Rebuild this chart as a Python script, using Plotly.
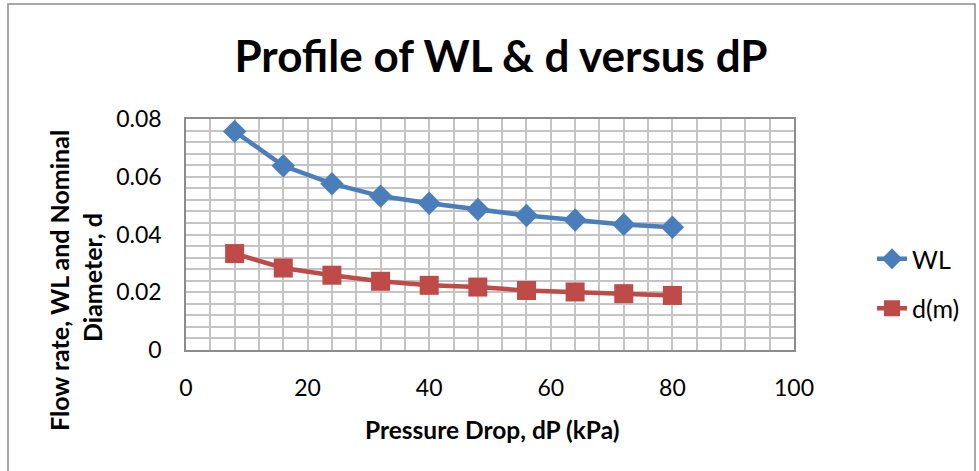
import plotly.graph_objects as go

# Pressure drop (kPa) and the resulting flow rate / nominal diameter values
dp_kpa = [8, 16, 24, 32, 40, 48, 56, 64, 72, 80]
wl = [0.0757, 0.0638, 0.0576, 0.0533, 0.0508, 0.0487, 0.0466, 0.0450, 0.0435, 0.0425]
d_m = [0.0334, 0.0284, 0.0259, 0.0238, 0.0224, 0.0218, 0.0206, 0.0201, 0.0195, 0.0189]

x_ticks = [0, 20, 40, 60, 80, 100]
y_ticks = [0, 0.02, 0.04, 0.06, 0.08]
y_tick_text = ["0", "0.02", "0.04", "0.06", "0.08"]

FONT = "Lato, 'Open Sans', sans-serif"
W, H = 979, 471
L, R, T, B = 186, 185, 119, 121

fig = go.Figure()
fig.add_trace(go.Scatter(
    x=dp_kpa, y=wl, name="WL", legendgroup="wl", mode="lines+markers",
    line=dict(color="#4A7EBB", width=4.5),
    marker=dict(symbol="diamond", size=18, color="#4A7EBB"),
))
fig.add_trace(go.Scatter(
    x=dp_kpa, y=d_m, name="d(m)", legendgroup="d", mode="lines+markers",
    line=dict(color="#BE4B48", width=4.5),
    marker=dict(symbol="square", size=19, color="#BE4B48"),
))

grid_col = "#C4C4C4"
pw, ph = W - L - R, H - T - B


def px(xp):
    return (xp - L) / pw


def py(yp):
    return (H - B - yp) / ph


fig.update_layout(
    width=W, height=H,
    margin=dict(l=L, r=R, t=T, b=B),
    paper_bgcolor="white", plot_bgcolor="white",
    font=dict(family=FONT, color="black"),
    title=dict(text="<b>Profile of WL &amp; d versus dP</b>",
               font=dict(size=44, family=FONT),
               x=501 / W, xanchor="center", xref="container",
               y=1 - 57 / H, yanchor="middle", yref="container"),
    xaxis=dict(range=[0, 100], tickvals=x_ticks, ticks="",
               tickfont=dict(size=23), showgrid=True, gridcolor=grid_col, gridwidth=1.5,
               minor=dict(dtick=4, showgrid=True, gridcolor=grid_col, gridwidth=1.5),
               showline=True, linecolor="#8C8C8C", linewidth=1.5, mirror=True,
               zeroline=False, ticklabelstandoff=17),
    yaxis=dict(range=[0, 0.08], tickvals=y_ticks, ticktext=y_tick_text, ticks="",
               tickfont=dict(size=23), showgrid=True, gridcolor=grid_col, gridwidth=1.5,
               minor=dict(dtick=0.004, tick0=0, showgrid=True, gridcolor=grid_col, gridwidth=1.5),
               showline=True, linecolor="#8C8C8C", linewidth=1.5, mirror=True,
               zeroline=False, ticklabelstandoff=18),
    legend=dict(x=px(872), y=py(236), xanchor="left", yanchor="top",
                font=dict(size=25), bgcolor="rgba(0,0,0,0)", tracegroupgap=14),
    showlegend=True,
)

# Axis titles
fig.add_annotation(text="<b>Flow rate, WL and Nominal</b>",
                   xref="paper", yref="paper", x=px(59), y=py(281),
                   textangle=-90, showarrow=False, font=dict(size=25, family=FONT),
                   xanchor="center", yanchor="middle")
fig.add_annotation(text="<b>Diameter, d</b>",
                   xref="paper", yref="paper", x=px(92), y=py(278),
                   textangle=-90, showarrow=False, font=dict(size=25, family=FONT),
                   xanchor="center", yanchor="middle")
fig.add_annotation(text="<b>Pressure Drop, dP (kPa)</b>",
                   xref="paper", yref="paper", x=px(492), y=py(429),
                   showarrow=False, font=dict(size=24.5, family=FONT),
                   xanchor="center", yanchor="middle")

# Chart-area border
fig.add_shape(type="rect", xref="paper", yref="paper",
              x0=px(8), x1=px(975), y0=py(490), y1=py(4),
              line=dict(color="#8C8C8C", width=1.5), layer="below")

fig.write_html("out.html")
